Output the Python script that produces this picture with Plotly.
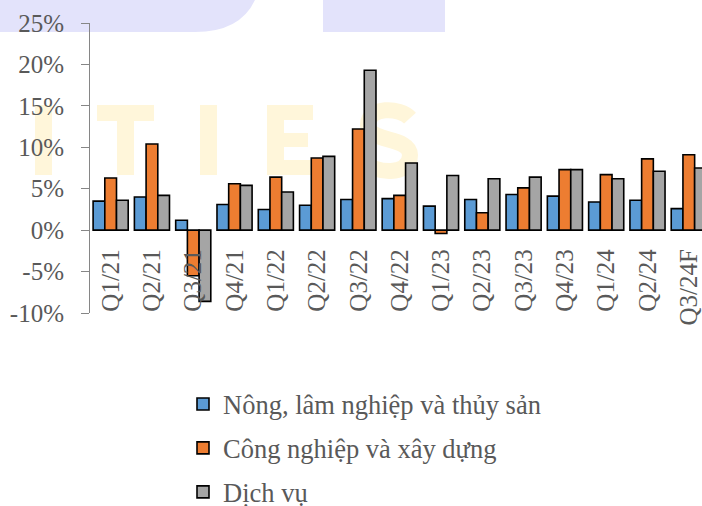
import plotly.graph_objects as go

quarters = ["Q1/21", "Q2/21", "Q3/21", "Q4/21", "Q1/22", "Q2/22", "Q3/22", "Q4/22",
            "Q1/23", "Q2/23", "Q3/23", "Q4/23", "Q1/24", "Q2/24", "Q3/24F"]
nong_lam_thuy_san = [3.5, 4.0, 1.2, 3.1, 2.5, 3.0, 3.7, 3.8, 2.9, 3.7, 4.3, 4.1, 3.4, 3.6, 2.6]
cong_nghiep_xay_dung = [6.3, 10.4, -5.5, 5.6, 6.4, 8.7, 12.2, 4.2, -0.4, 2.1, 5.1, 7.3, 6.7, 8.6, 9.1]
dich_vu = [3.6, 4.2, -8.6, 5.4, 4.6, 8.9, 19.3, 8.1, 6.6, 6.2, 6.4, 7.3, 6.2, 7.1, 7.5]
series_names = ["Nông, lâm nghiệp và thủy sản", "Công nghiệp và xây dựng", "Dịch vụ"]
series_colors = ["#5B9BD5", "#ED7D31", "#A5A5A5"]
y_tick_values = [-10, -5, 0, 5, 10, 15, 20, 25]
y_tick_labels = ["-10%", "-5%", "0%", "5%", "10%", "15%", "20%", "25%"]

FONT = "Liberation Serif"
TXT = "#595959"

# plot area geometry (pixels) used for the decorative watermark only
L, R, T, B = 90, 702, 23, 312.8


def P(px, py):
    return f"{(px - L) / (R - L):.5f},{(B - py) / (B - T):.5f}"


def rect(x0, y0, x1, y1, color):
    return dict(type="rect", xref="paper", yref="paper", layer="below",
                x0=(x0 - L) / (R - L), x1=(x1 - L) / (R - L),
                y0=(B - y0) / (B - T), y1=(B - y1) / (B - T),
                fillcolor=color, line=dict(width=0))


LAV = "#E3E3FB"
YEL = "#FFF6DA"
shapes = [
    dict(type="path", xref="paper", yref="paper", layer="below",
         path=f"M {P(0,0)} L {P(255,0)} Q {P(240,32)} {P(195,32)} L {P(0,32)} Z",
         fillcolor=LAV, line=dict(width=0)),
    rect(323, 0, 445, 32, LAV),
    rect(35, 105, 52, 175, YEL),
    rect(97, 105, 154, 121, YEL),
    rect(117, 105, 134, 175, YEL),
    rect(200, 105, 217, 175, YEL),
    rect(267, 105, 284, 175, YEL),
    rect(267, 105, 313, 120, YEL),
    rect(267, 133, 308, 147, YEL),
    rect(267, 160, 313, 175, YEL),
    dict(type="path", xref="paper", yref="paper", layer="below",
         path=(f"M {P(410,118)} C {P(400,107)} {P(368,106)} {P(368,125)} "
               f"C {P(368,143)} {P(410,136)} {P(410,155)} "
               f"C {P(410,177)} {P(374,173)} {P(364,162)}"),
         line=dict(color=YEL, width=16)),
]

fig = go.Figure()
for i, (name, vals, col) in enumerate(zip(series_names,
                                            [nong_lam_thuy_san, cong_nghiep_xay_dung, dich_vu],
                                            series_colors)):
    fig.add_trace(go.Bar(x=quarters, y=vals, name=name, legendgroup=f"g{i}",
                         marker=dict(color=col, line=dict(color="black", width=1.6))))

fig.update_layout(
    width=702, height=506,
    margin=dict(l=L, r=0, t=T, b=506 - B, autoexpand=False),
    paper_bgcolor="white", plot_bgcolor="rgba(0,0,0,0)",
    barmode="group", bargap=0.15, bargroupgap=0,
    font=dict(family=FONT, size=25, color=TXT),
    shapes=shapes,
    showlegend=True,
    legend=dict(x=(183 - L) / (R - L), xanchor="left",
                y=(B - 380) / (B - T), yanchor="top",
                traceorder="grouped", tracegroupgap=6.5,
                font=dict(family=FONT, size=26.5, color=TXT),
                bgcolor="rgba(0,0,0,0)"),
    xaxis=dict(type="category", range=[-0.5, 14.32], anchor="free", position=10 / 35,
               showline=False, ticks="", tickangle=-90, showgrid=False, zeroline=False,
               ticklabelstandoff=13,
               tickfont=dict(family=FONT, size=25, color=TXT)),
    yaxis=dict(range=[-10, 25], tickmode="array", tickvals=y_tick_values,
               ticktext=y_tick_labels, showgrid=False, zeroline=False,
               showline=True, linecolor="#868686", linewidth=1, ticks="outside",
               ticklen=8, tickcolor="#868686", ticklabelstandoff=12,
               tickfont=dict(family=FONT, size=25, color=TXT)),
)

fig.write_html("out.html", config={"displayModeBar": False},
               post_script="document.body.style.margin='0';document.body.style.overflow='hidden';")
